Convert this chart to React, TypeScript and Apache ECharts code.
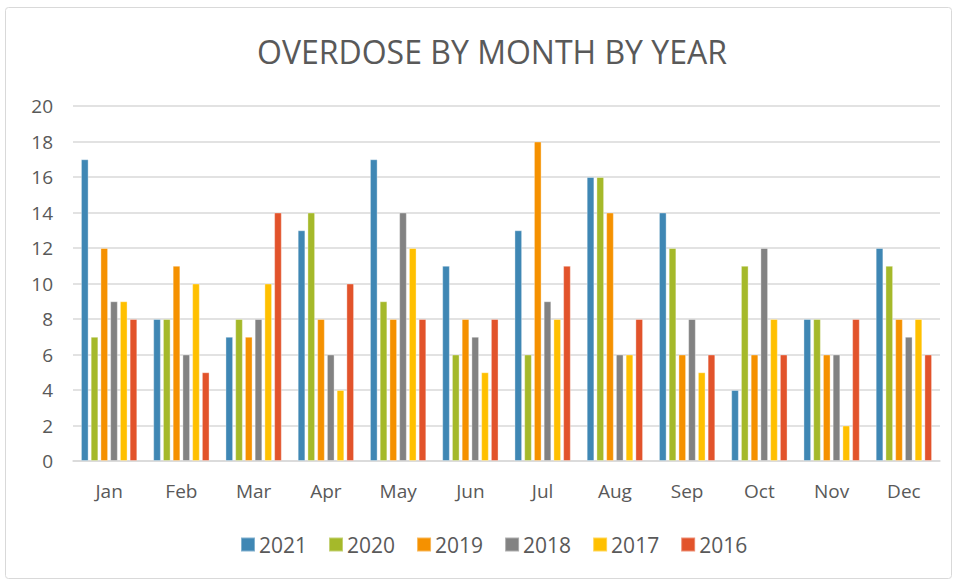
import React, { useEffect, useRef } from "react";
import * as echarts from "echarts";

const months = ["Jan", "Feb", "Mar", "Apr", "May", "Jun", "Jul", "Aug", "Sep", "Oct", "Nov", "Dec"];
const years = ["2021", "2020", "2019", "2018", "2017", "2016"];
const v2021 = [17, 8, 7, 13, 17, 11, 13, 16, 14, 4, 8, 12];
const v2020 = [7, 8, 8, 14, 9, 6, 6, 16, 12, 11, 8, 11];
const v2019 = [12, 11, 7, 8, 8, 8, 18, 14, 6, 6, 6, 8];
const v2018 = [9, 6, 8, 6, 14, 7, 9, 6, 8, 12, 6, 7];
const v2017 = [9, 10, 10, 4, 12, 5, 8, 6, 5, 8, 2, 8];
const v2016 = [8, 5, 14, 10, 8, 8, 11, 8, 6, 6, 8, 6];
const colors = ["#3f87b4", "#a5b92a", "#f59100", "#828282", "#ffc000", "#e2532b"];

export default function App() {
  const ref = useRef<HTMLDivElement>(null);
  useEffect(() => {
    if (!ref.current) return;
    const chart = echarts.init(ref.current, undefined, { renderer: "svg" });
    const all = [v2021, v2020, v2019, v2018, v2017, v2016];
    const font = "Open Sans, sans-serif";
    chart.setOption({
      animation: false,
      backgroundColor: "#ffffff",
      title: {
        text: "OVERDOSE BY MONTH BY YEAR",
        left: 252,
        top: 30,
        textStyle: { fontFamily: font, fontWeight: "normal", fontSize: 32, color: "#595959" },
      },
      graphic: [
        {
          type: "rect",
          shape: { x: 5.5, y: 7.5, width: 946, height: 571, r: 3 },
          style: { fill: "none", stroke: "#d9d9d9", lineWidth: 1 },
          silent: true,
        },
      ],
      legend: {
        bottom: 20,
        left: 235,
        itemWidth: 14,
        itemHeight: 14,
        itemGap: 21,
        icon: "rect",
        textStyle: { fontFamily: font, fontSize: 21, color: "#595959", padding: [0, 0, 0, -1] },
        data: years,
      },
      grid: { left: 73, right: 18, top: 106, bottom: 119, containLabel: false },
      xAxis: {
        type: "category",
        data: months,
        axisLine: { lineStyle: { color: "#d9d9d9", width: 1.5 } },
        axisTick: { show: false },
        axisLabel: { color: "#595959", fontSize: 19, fontFamily: font, margin: 20 },
      },
      yAxis: {
        type: "value",
        min: 0,
        max: 20,
        interval: 2,
        axisLine: { show: false },
        axisTick: { show: false },
        splitLine: { lineStyle: { color: "#d9d9d9", width: 1.5 } },
        axisLabel: { color: "#595959", fontSize: 19, fontFamily: font, margin: 20 },
      },
      series: years.map((y, i) => ({
        name: y,
        type: "bar",
        data: all[i],
        barCategoryGap: "22%",
        barGap: "27%",
        itemStyle: { color: colors[i], borderColor: "rgba(255,255,255,0.35)", borderWidth: 1 },
      })),
    });
    return () => chart.dispose();
  }, []);
  return <div ref={ref} style={{ position: "absolute", left: 0, top: 0, width: 958, height: 580 }} />;
}
